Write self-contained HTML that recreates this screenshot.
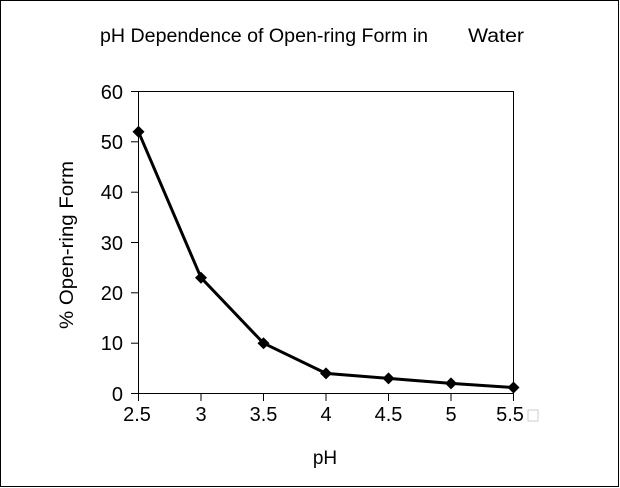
<!DOCTYPE html>
<html><head><style>body{margin:0;background:#fff}svg{display:block}text{font-family:"Liberation Sans",sans-serif;fill:#000}</style></head>
<body>
<svg width="620" height="488" viewBox="0 0 620 488">
<rect x="0.5" y="0.5" width="618" height="486" fill="#fff" stroke="#000" stroke-width="1"/>
<text x="100" y="42" font-size="19" textLength="328" lengthAdjust="spacingAndGlyphs">pH Dependence of Open-ring Form in</text>
<text x="468" y="42" font-size="19" textLength="56" lengthAdjust="spacingAndGlyphs">Water</text>
<rect x="138.5" y="91.5" width="375" height="302" fill="none" stroke="#000"/>
<g stroke="#000">
<line x1="131" y1="91.5" x2="138" y2="91.5"/><line x1="131" y1="141.8" x2="138" y2="141.8"/>
<line x1="131" y1="192.2" x2="138" y2="192.2"/><line x1="131" y1="242.5" x2="138" y2="242.5"/>
<line x1="131" y1="292.8" x2="138" y2="292.8"/><line x1="131" y1="343.2" x2="138" y2="343.2"/>
<line x1="131" y1="393.5" x2="138" y2="393.5"/>
<line x1="138.5" y1="394" x2="138.5" y2="401"/><line x1="201" y1="394" x2="201" y2="401"/>
<line x1="263.5" y1="394" x2="263.5" y2="401"/><line x1="326" y1="394" x2="326" y2="401"/>
<line x1="388.5" y1="394" x2="388.5" y2="401"/><line x1="451" y1="394" x2="451" y2="401"/>
<line x1="513.5" y1="394" x2="513.5" y2="401"/>
</g>
<g font-size="20" text-anchor="end">
<text x="123" y="99">60</text><text x="123" y="149">50</text><text x="123" y="199">40</text>
<text x="123" y="250">30</text><text x="123" y="300">20</text><text x="123" y="350">10</text><text x="123" y="401">0</text>
</g>
<g font-size="20" text-anchor="middle">
<text x="137" y="421">2.5</text><text x="201" y="421">3</text><text x="263.5" y="421">3.5</text>
<text x="326" y="421">4</text><text x="388.5" y="421">4.5</text><text x="451" y="421">5</text><text x="510" y="421">5.5</text>
</g>
<rect x="528" y="410" width="10" height="11" fill="none" stroke="#ccc"/>
<text x="325" y="464" font-size="19" text-anchor="middle">pH</text>
<text transform="translate(73,245) rotate(-90)" font-size="19" text-anchor="middle" textLength="168" lengthAdjust="spacingAndGlyphs">% Open-ring Form</text>
<polyline fill="none" stroke="#000" stroke-width="3" points="138.5,131.8 201,277.7 263.5,343.2 326,373.4 388.5,378.4 451,383.4 513.5,387.5"/>
<g fill="#000">
<path d="M138.5,125.8l6,6l-6,6l-6,-6z"/><path d="M201,271.7l6,6l-6,6l-6,-6z"/>
<path d="M263.5,337.2l6,6l-6,6l-6,-6z"/><path d="M326,367.4l6,6l-6,6l-6,-6z"/>
<path d="M388.5,372.4l6,6l-6,6l-6,-6z"/><path d="M451,377.4l6,6l-6,6l-6,-6z"/>
<path d="M513.5,381.5l6,6l-6,6l-6,-6z"/>
</g>
</svg>
</body></html>
